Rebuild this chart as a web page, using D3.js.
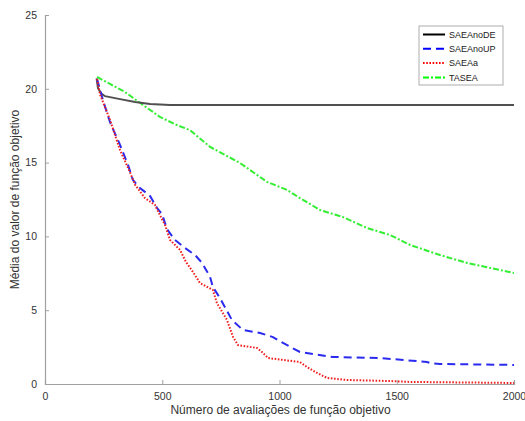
<!DOCTYPE html>
<html>
<head>
<meta charset="utf-8">
<script src="https://cdn.jsdelivr.net/npm/d3@7"></script>
<style>
  body { margin: 0; background: #fff; }
  svg { font-family: "Liberation Sans", Arial, sans-serif; }
</style>
</head>
<body>
<div id="chart"></div>
<script>
// Series data: [evaluations, mean objective value]
let saeaNoDE = [
  [220, 20.7], [226, 20.05], [239, 19.7], [256, 19.5], [320, 19.3],
  [384, 19.1], [448, 18.97], [533, 18.9], [2000, 18.9]
];
let saeaNoUP = [
  [222, 20.66], [247, 19.24], [277, 17.75], [320, 16.2], [354, 14.84],
  [375, 13.82], [405, 13.28], [448, 12.74], [478, 11.92], [499, 11.52],
  [520, 10.5], [554, 9.76], [597, 9.21], [640, 8.74], [670, 8.2],
  [704, 7.25], [716, 6.57], [746, 5.83], [797, 4.34], [844, 3.66],
  [917, 3.46], [972, 3.18], [1015, 2.78], [1087, 2.17], [1228, 1.83],
  [1429, 1.76], [1629, 1.49], [1642, 1.42], [1684, 1.36], [2000, 1.29]
];
let saeaA = [
  [222, 20.66], [235, 19.6], [277, 17.9], [320, 15.85], [362, 14.36],
  [384, 13.5], [426, 12.6], [469, 12.13], [490, 11.45], [512, 10.77],
  [533, 9.76], [576, 9.08], [601, 8.27], [631, 7.59], [661, 6.84],
  [716, 6.37], [733, 5.49], [776, 4.34], [802, 3.18], [823, 2.64],
  [904, 2.44], [930, 2.1], [951, 1.76], [1087, 1.49], [1117, 1.15],
  [1160, 0.75], [1203, 0.41], [1288, 0.27], [1471, 0.2], [1557, 0.14],
  [2000, 0.07]
];
let tasea = [
  [222, 20.8], [277, 20.33], [341, 19.78], [418, 18.9], [490, 18.1],
  [554, 17.6], [618, 17.2], [704, 16.06], [832, 14.97], [947, 13.69],
  [1032, 13.15], [1087, 12.6], [1173, 11.79], [1271, 11.31], [1373, 10.57],
  [1471, 10.1], [1557, 9.42], [1684, 8.74], [1800, 8.2], [2000, 7.52]
];

let seriesNames = ["SAEAnoDE", "SAEAnoUP", "SAEAa", "TASEA"];
let xTicks = [0, 500, 1000, 1500, 2000];
let yTicks = [0, 5, 10, 15, 20, 25];

// Set size
let w = 525;
let h = 421;
let margin = { left: 45, right: 11, top: 15, bottom: 37 };

let xScale = d3.scaleLinear().domain([0, 2000]).range([margin.left, w - margin.right]);
let yScale = d3.scaleLinear().domain([0, 25]).range([h - margin.bottom, margin.top]);

let svg = d3.select("#chart").append("svg").attr("width", w).attr("height", h);

// Axes: ticks point inward, grey lines
let xAxis = d3.axisBottom(xScale).tickValues(xTicks).tickFormat(d3.format("d")).tickSize(-4).tickPadding(9);
let yAxis = d3.axisLeft(yScale).tickValues(yTicks).tickFormat(d3.format("d")).tickSize(-4).tickPadding(8);

let gx = svg.append("g")
  .attr("transform", "translate(0," + (h - margin.bottom) + ")")
  .call(xAxis);
let gy = svg.append("g")
  .attr("transform", "translate(" + margin.left + ",0)")
  .call(yAxis);

[gx, gy].forEach((g) => {
  g.select(".domain").attr("stroke", "#a0a0a0").attr("stroke-width", 1.2);
  g.selectAll(".tick line").attr("stroke", "#a0a0a0");
  g.selectAll(".tick text").attr("fill", "#333").attr("font-size", "10.5px");
});

// Axis titles
svg.append("text")
  .attr("x", (margin.left + w - margin.right) / 2 + 1)
  .attr("y", h - 7)
  .attr("text-anchor", "middle")
  .attr("font-size", "12px")
  .attr("fill", "#333")
  .text("Número de avaliações de função objetivo");

svg.append("text")
  .attr("transform", "translate(19," + (margin.top + h - margin.bottom) / 2 + ") rotate(-90)")
  .attr("text-anchor", "middle")
  .attr("font-size", "12px")
  .attr("fill", "#333")
  .text("Média do valor de função objetivo");

// Line styles
let styles = [
  { data: saeaNoDE, color: "#505050", dash: null, legendColor: "#000" },
  { data: saeaNoUP, color: "#2b2bf0", dash: "8,5", legendColor: "#0000ff" },
  { data: saeaA, color: "#f02020", dash: "1.6,1.6", legendColor: "#ff0000" },
  { data: tasea, color: "#33ee33", dash: "6,2,2,2", legendColor: "#00ff00" }
];

let line = d3.line()
  .x((d) => xScale(d[0]))
  .y((d) => yScale(d[1]));

// Draw series (TASEA first so the others sit on top)
[3, 0, 1, 2].forEach((i) => {
  let s = styles[i];
  svg.append("path")
    .datum(s.data)
    .attr("fill", "none")
    .attr("stroke", s.color)
    .attr("stroke-width", 2)
    .attr("stroke-dasharray", s.dash)
    .attr("d", line);
});

// Legend
let legend = svg.append("g").attr("transform", "translate(419,26)");
legend.append("rect")
  .attr("width", 84)
  .attr("height", 59)
  .attr("fill", "#fff")
  .attr("stroke", "#999")
  .attr("stroke-width", 0.8);

seriesNames.forEach((name, i) => {
  let y = 8.5 + i * 14.3;
  legend.append("line")
    .attr("x1", 4).attr("x2", 26)
    .attr("y1", y).attr("y2", y)
    .attr("stroke", styles[i].legendColor)
    .attr("stroke-width", 2)
    .attr("stroke-dasharray", styles[i].dash);
  legend.append("text")
    .attr("x", 30)
    .attr("y", y + 3.3)
    .attr("font-size", "9px")
    .attr("fill", "#222")
    .text(name);
});
</script>
</body>
</html>
